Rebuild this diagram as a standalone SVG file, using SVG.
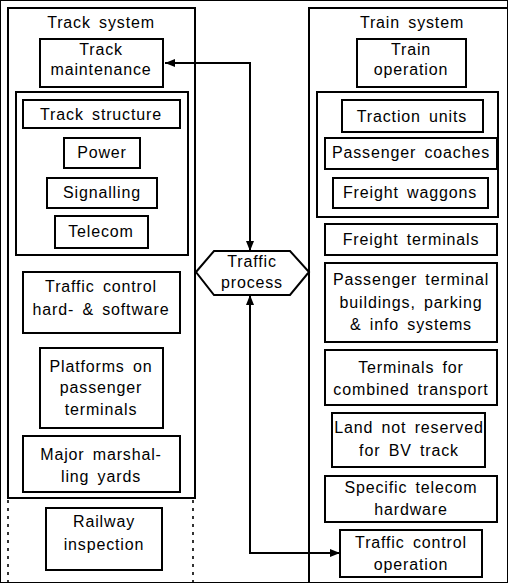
<svg xmlns="http://www.w3.org/2000/svg" width="508" height="583" viewBox="0 0 508 583">
<defs>
<style>
rect,.box{fill:none;stroke:#000;stroke-width:2}
.frame{fill:none;stroke:#000;stroke-width:2}
.dot{fill:none;stroke:#000;stroke-width:1.6;stroke-dasharray:3 5}
text{font-family:"Liberation Sans",Arial,sans-serif;font-size:16px;fill:#000;text-anchor:middle;letter-spacing:0.85px;word-spacing:3px}
.conn{fill:none;stroke:#000;stroke-width:2}
</style>
<marker id="ah" viewBox="0 0 10 10" refX="10" refY="5" markerWidth="10" markerHeight="8" markerUnits="userSpaceOnUse" orient="auto-start-reverse" preserveAspectRatio="none">
<path d="M0,0 L10,5 L0,10 z" fill="#000"/>
</marker>
</defs>
<rect width="508" height="583" fill="#fff" stroke="none"/>

<g id="track-system">
<rect x="8" y="8" width="187" height="490"/>
<path class="dot" d="M8,500 V583 M193,500 V583"/>
<text x="101" y="28">Track system</text>
</g>
<g id="track-maintenance"><rect x="40" y="39" width="123" height="48"/><text x="101" y="55">Track</text><text x="101" y="75">maintenance</text></g>
<g id="track-infra"><rect x="16" y="92" width="172" height="163"/></g>
<g id="track-structure"><rect x="23" y="100" width="157" height="28"/><text x="101" y="120">Track structure</text></g>
<g id="power"><rect x="64" y="138" width="76" height="30"/><text x="102" y="158">Power</text></g>
<g id="signalling"><rect x="47" y="178" width="110" height="30"/><text x="102" y="198">Signalling</text></g>
<g id="telecom"><rect x="55" y="216" width="93" height="32"/><text x="101" y="237">Telecom</text></g>
<g id="traffic-control-hw"><rect x="23" y="272" width="157" height="61"/><text x="101" y="292">Traffic control</text><text x="101" y="315">hard- &amp; software</text></g>
<g id="platforms"><rect x="40" y="348" width="123" height="80"/><text x="101" y="372">Platforms on</text><text x="101" y="393">passenger</text><text x="101" y="415">terminals</text></g>
<g id="marshalling"><rect x="23" y="436" width="157" height="56"/><text x="101" y="460">Major marshal-</text><text x="101" y="482">ling yards</text></g>
<g id="railway-inspection"><rect x="46" y="508" width="116" height="62"/><text x="104" y="527">Railway</text><text x="104" y="550">inspection</text></g>

<g id="train-system">
<path class="frame" d="M309,583 V8 H508"/>
<text x="412" y="28">Train system</text>
</g>
<g id="train-operation"><rect x="357" y="39" width="109" height="48"/><text x="411" y="55">Train</text><text x="411" y="75">operation</text></g>
<g id="rolling-stock"><rect x="317" y="92" width="181" height="125"/></g>
<g id="traction-units"><rect x="342" y="100" width="141" height="32"/><text x="412" y="122">Traction units</text></g>
<g id="passenger-coaches"><rect x="325" y="138" width="172" height="31"/><text x="411" y="158">Passenger coaches</text></g>
<g id="freight-waggons"><rect x="333" y="178" width="155" height="30"/><text x="410" y="198">Freight waggons</text></g>
<g id="freight-terminals"><rect x="325" y="224" width="172" height="31"/><text x="411" y="245">Freight terminals</text></g>
<g id="passenger-terminal"><rect x="325" y="263" width="172" height="79"/><text x="411" y="285">Passenger terminal</text><text x="411" y="308">buildings, parking</text><text x="411" y="330">&amp; info systems</text></g>
<g id="combined-transport"><rect x="325" y="350" width="172" height="55"/><text x="411" y="373">Terminals for</text><text x="411" y="395">combined transport</text></g>
<g id="land"><rect x="332" y="413" width="153" height="54"/><text x="409" y="433">Land not reserved</text><text x="409" y="456">for BV track</text></g>
<g id="specific-telecom"><rect x="325" y="476" width="172" height="46"/><text x="411" y="493">Specific telecom</text><text x="411" y="515">hardware</text></g>
<g id="traffic-control-operation"><rect x="340" y="530" width="142" height="47"/><text x="411" y="548">Traffic control</text><text x="411" y="570">operation</text></g>

<g id="traffic-process">
<polygon class="box" points="196,272 214,251 290,251 309,272 290,295 214,295"/>
<text x="252" y="267">Traffic</text><text x="252" y="288">process</text>
</g>

<g id="connectors">
<path class="conn" d="M165,63 H250 V251" marker-start="url(#ah)" marker-end="url(#ah)"/>
<path class="conn" d="M250,295 V553 H340" marker-start="url(#ah)" marker-end="url(#ah)"/>
</g>
</svg>
